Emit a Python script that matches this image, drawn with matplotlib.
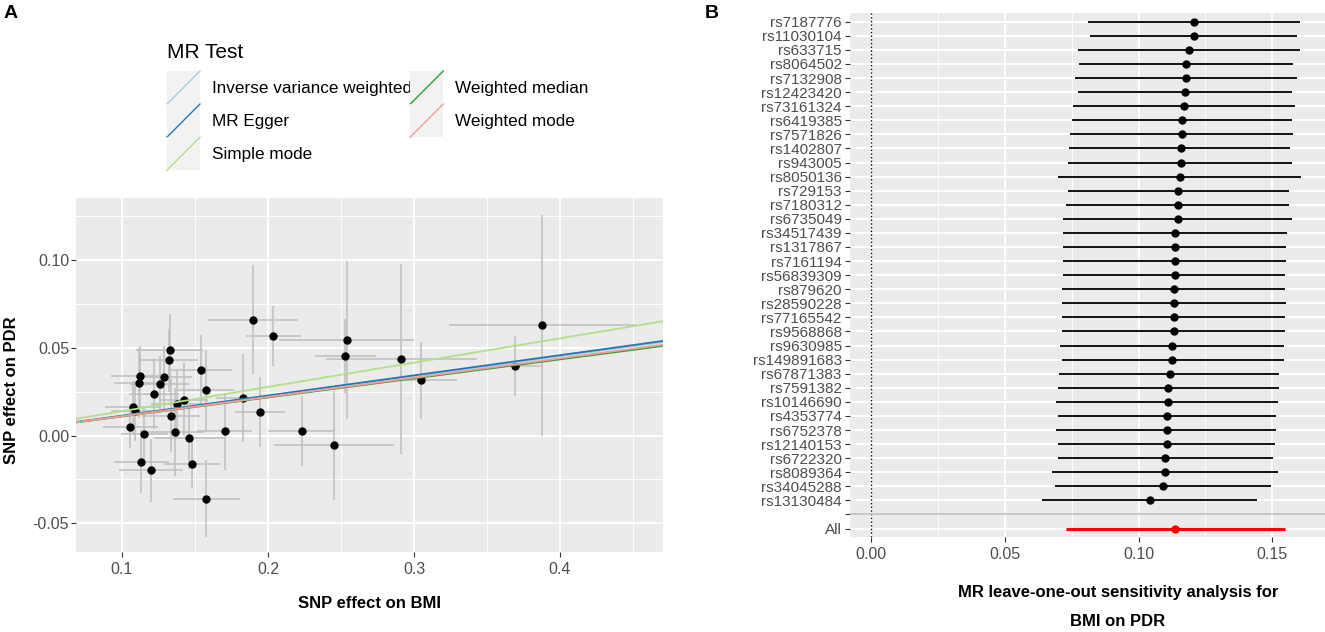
import numpy as np
import matplotlib.pyplot as plt
from matplotlib.lines import Line2D
from matplotlib.patches import Rectangle
from matplotlib.legend_handler import HandlerBase
from matplotlib.ticker import MultipleLocator

plt.rcParams['font.family'] = ['Liberation Sans', 'DejaVu Sans']
plt.rcParams['axes.unicode_minus'] = False

# ---- panel A: SNP effects (exposure BMI, outcome PDR) ----
bx = [0.1896, 0.2037, 0.2538, 0.2529, 0.2914, 0.3051, 0.1946, 0.2230, 0.2454,
      0.1827, 0.3878, 0.3689, 0.1326, 0.1319, 0.1540, 0.1125, 0.1114, 0.1287,
      0.1257, 0.1576, 0.1221, 0.1422, 0.1380, 0.1075, 0.1088, 0.1335, 0.1057,
      0.1153, 0.1365, 0.1460, 0.1702, 0.1132, 0.1200, 0.1478, 0.1576]
by = [0.0661, 0.0566, 0.0547, 0.0452, 0.0437, 0.0315, 0.0133, 0.0027, -0.0055,
      0.0215, 0.0629, 0.0395, 0.0485, 0.0428, 0.0372, 0.0338, 0.0300, 0.0333,
      0.0291, 0.0258, 0.0236, 0.0205, 0.0179, 0.0162, 0.0141, 0.0114, 0.0049,
      0.0011, 0.0021, -0.0013, 0.0025, -0.0150, -0.0198, -0.0160, -0.0361]
se_x = [0.031, 0.019, 0.046, 0.021, 0.052, 0.024, 0.017, 0.023, 0.041,
        0.018, 0.064, 0.018, 0.023, 0.020, 0.021, 0.020, 0.017, 0.019,
        0.020, 0.019, 0.017, 0.017, 0.018, 0.019, 0.016, 0.020, 0.019,
        0.016, 0.020, 0.024, 0.019, 0.019, 0.022, 0.019, 0.023]
se_y = [0.031, 0.017, 0.045, 0.021, 0.054, 0.022, 0.020, 0.020, 0.031,
        0.025, 0.063, 0.017, 0.021, 0.018, 0.020, 0.017, 0.020, 0.018,
        0.016, 0.023, 0.020, 0.021, 0.019, 0.015, 0.017, 0.021, 0.012,
        0.016, 0.025, 0.018, 0.022, 0.018, 0.018, 0.014, 0.022]

mr_methods = ['Inverse variance weighted', 'MR Egger', 'Simple mode',
              'Weighted median', 'Weighted mode']
mr_slope = [0.1130, 0.1150, 0.1385, 0.1085, 0.1100]
mr_intercept = [0.0, -0.0002, 0.0, 0.0, 0.0]
mr_colors = ['#A6CEE3', '#1F78B4', '#B2DF8A', '#33A02C', '#FB9A99']

# ---- panel B: leave-one-out ----
loo_snps = ['rs7187776', 'rs11030104', 'rs633715', 'rs8064502', 'rs7132908',
            'rs12423420', 'rs73161324', 'rs6419385', 'rs7571826', 'rs1402807',
            'rs943005', 'rs8050136', 'rs729153', 'rs7180312', 'rs6735049',
            'rs34517439', 'rs1317867', 'rs7161194', 'rs56839309', 'rs879620',
            'rs28590228', 'rs77165542', 'rs9568868', 'rs9630985', 'rs149891683',
            'rs67871383', 'rs7591382', 'rs10146690', 'rs4353774', 'rs6752378',
            'rs12140153', 'rs6722320', 'rs8089364', 'rs34045288', 'rs13130484']
loo_b = [0.1206, 0.1206, 0.1189, 0.1178, 0.1178, 0.1173, 0.1168, 0.1163, 0.1163,
         0.1157, 0.1157, 0.1153, 0.1147, 0.1147, 0.1147, 0.1136, 0.1136, 0.1136,
         0.1136, 0.1132, 0.1132, 0.1132, 0.1132, 0.1126, 0.1126, 0.1117, 0.1111,
         0.1111, 0.1105, 0.1105, 0.1105, 0.1100, 0.1100, 0.1090, 0.1042]
loo_lo = [0.0809, 0.0819, 0.0772, 0.0777, 0.0763, 0.0772, 0.0756, 0.0750, 0.0744,
          0.0740, 0.0735, 0.0697, 0.0735, 0.0729, 0.0718, 0.0718, 0.0718, 0.0718,
          0.0718, 0.0712, 0.0712, 0.0712, 0.0712, 0.0707, 0.0712, 0.0702, 0.0697,
          0.0691, 0.0697, 0.0691, 0.0697, 0.0697, 0.0676, 0.0686, 0.0638]
loo_hi = [0.1605, 0.1591, 0.1605, 0.1578, 0.1592, 0.1573, 0.1584, 0.1573, 0.1578,
          0.1568, 0.1573, 0.1609, 0.1563, 0.1563, 0.1573, 0.1556, 0.1552, 0.1552,
          0.1546, 0.1546, 0.1552, 0.1546, 0.1546, 0.1542, 0.1542, 0.1525, 0.1525,
          0.1521, 0.1515, 0.1515, 0.1511, 0.1503, 0.1521, 0.1494, 0.1441]
all_b, all_lo, all_hi = 0.1136, 0.0728, 0.1546

W, H = 1325, 632
PANEL = '#EBEBEB'
TXT = '#4D4D4D'


def fx(px):
    return px / W


def fy(py):
    return 1 - py / H


class DiagKey(HandlerBase):
    # ggplot-like legend key: grey square with a diagonal line
    def create_artists(self, legend, orig_handle, xdescent, ydescent,
                       width, height, fontsize, trans):
        bg = Rectangle((-xdescent, -ydescent), width, height,
                       facecolor='#F2F2F2', edgecolor='none', transform=trans)
        ln = Line2D([-xdescent, -xdescent + width], [-ydescent, -ydescent + height],
                    color=orig_handle.get_color(), lw=1.0, transform=trans)
        return [bg, ln]


def style_axes(ax):
    ax.set_facecolor(PANEL)
    for s in ax.spines.values():
        s.set_visible(False)
    ax.set_axisbelow(True)
    ax.tick_params(which='major', color='#333333', length=3.5, width=0.8,
                   labelcolor=TXT, labelsize=11.5)
    ax.tick_params(which='minor', length=0)


fig = plt.figure(figsize=(W / 100, H / 100), dpi=100)

# ---------- A ----------
ax1 = fig.add_axes([fx(76), fy(551.7), fx(663) - fx(76), fy(198.3) - fy(551.7)])
style_axes(ax1)
ax1.errorbar(bx, by, xerr=se_x, yerr=se_y, fmt='none', ecolor='#BEBEBE',
             elinewidth=1.1, capsize=0, zorder=2)
ax1.plot(bx, by, 'o', color='black', ms=5, zorder=3)
handles = []
for m, s, b0, c in zip(mr_methods, mr_slope, mr_intercept, mr_colors):
    ln = ax1.axline((0, b0), slope=s, color=c, lw=1.3, label=m, zorder=4)
    handles.append(ln)
ax1.set_xlim(0.0685, 0.4705)
ax1.set_ylim(-0.0662, 0.1352)
ax1.set_xticks([0.1, 0.2, 0.3, 0.4])
ax1.set_xticklabels(['0.1', '0.2', '0.3', '0.4'])
ax1.set_yticks([-0.05, 0.0, 0.05, 0.10])
ax1.set_yticklabels(['-0.05', '0.00', '0.05', '0.10'])
ax1.xaxis.set_minor_locator(MultipleLocator(0.05))
ax1.yaxis.set_minor_locator(MultipleLocator(0.025))
ax1.grid(which='major', color='white', lw=1.4)
ax1.grid(which='minor', color='white', lw=0.7)
ax1.tick_params(axis='x', pad=4)
ax1.tick_params(axis='y', pad=1.5)

fig.text(fx(370), fy(603), 'SNP effect on BMI', ha='center', va='center',
         fontsize=12, fontweight='bold')
fig.text(fx(12), fy(390), 'SNP effect on PDR', ha='center', va='center',
         rotation=90, fontsize=12, fontweight='bold')

# legend: title as separate text, entries in two columns below it
fig.text(fx(167), fy(53), 'MR Test', ha='left', va='center', fontsize=15)
leg = fig.legend(handles=handles, labels=mr_methods, ncol=2,
                 loc='upper left', bbox_to_anchor=(fx(167), fy(71)),
                 frameon=False, fontsize=12.3, handler_map={Line2D: DiagKey()},
                 handlelength=1.93, handleheight=2.6, labelspacing=0.0,
                 handletextpad=0.7, columnspacing=-0.1, borderpad=0,
                 borderaxespad=0)

# ---------- B ----------
ax2 = fig.add_axes([fx(850), fy(537), 1 - fx(850), fy(13.3) - fy(537)])
style_axes(ax2)
n = len(loo_snps)
ypos = np.arange(n, 0, -1) + 2          # top row highest, blank row at 2, All at 1
ax2.axvline(0, color='black', lw=1.0, ls=':', zorder=2)
ax2.axhline(2, color='#BEBEBE', lw=1.2, zorder=2)
ax2.hlines(ypos, loo_lo, loo_hi, color='black', lw=1.3, zorder=3)
ax2.plot(loo_b, ypos, 'o', color='black', ms=5, zorder=4)
ax2.hlines([1], [all_lo], [all_hi], color='red', lw=2.2, zorder=3)
ax2.plot([all_b], [1], 'o', color='red', ms=5, zorder=4)
ax2.set_xlim(-0.0079, 0.1697)
ax2.set_ylim(0.4, n + 2.6)
ax2.set_xticks([0.0, 0.05, 0.10, 0.15])
ax2.set_xticklabels(['0.00', '0.05', '0.10', '0.15'])
ax2.set_yticks(list(ypos) + [2, 1])
ax2.set_yticklabels(loo_snps + ['', 'All'])
ax2.xaxis.set_minor_locator(MultipleLocator(0.025))
ax2.grid(which='major', color='white', lw=1.4)
ax2.grid(which='minor', axis='x', color='white', lw=0.7)
ax2.tick_params(axis='y', labelsize=11, pad=2.5)
ax2.tick_params(axis='x', pad=4)

fig.text(fx(1118), fy(592), 'MR leave-one-out sensitivity analysis for',
         ha='center', va='center', fontsize=12, fontweight='bold')
fig.text(fx(1118), fy(622), 'BMI on PDR', ha='center', va='center',
         fontsize=12, fontweight='bold')

fig.text(fx(4), fy(13), 'A', ha='left', va='center', fontsize=14, fontweight='bold')
fig.text(fx(705), fy(13), 'B', ha='left', va='center', fontsize=14, fontweight='bold')

fig.savefig('out.png', dpi=100, facecolor='white')
